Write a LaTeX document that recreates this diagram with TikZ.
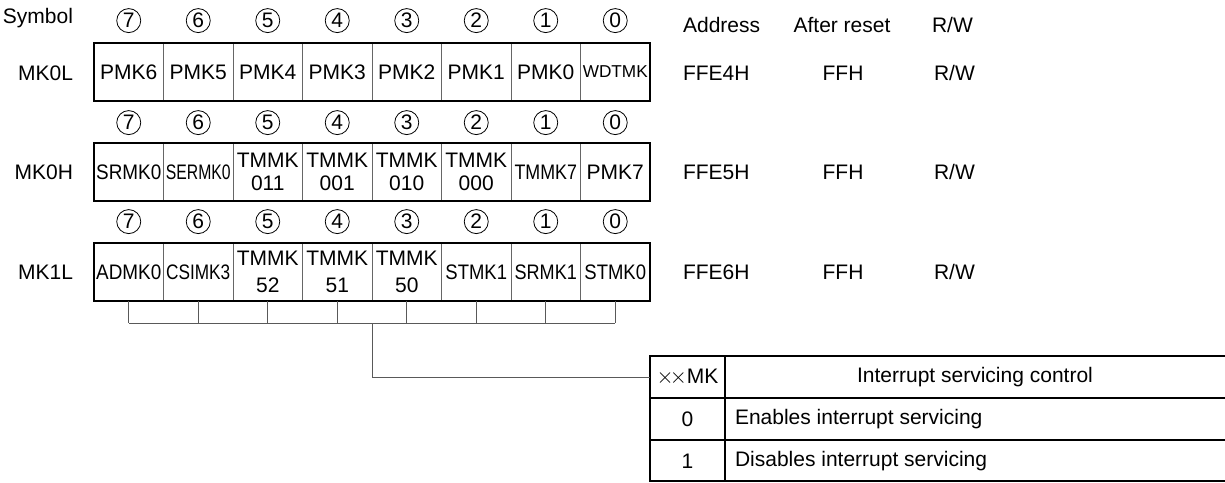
\documentclass[tikz,border=0pt]{standalone}
\usepackage{fontspec}
\setmainfont{Liberation Sans}
\usepackage{graphicx}
\usetikzlibrary{positioning}
\tikzset{
    % one bit of a register
    regcell/.style={
        draw=black!60,
        line width=0.5pt,
        minimum width=34.75pt,
        minimum height=29pt,
        inner sep=0pt,
        outer sep=0pt,
        align=center
    },
    regframe/.style={line width=1.1pt, black},
    bitno/.style={circle, draw, line width=0.4pt, minimum size=12pt, inner sep=0pt},
    combline/.style={line width=0.5pt, black!65},
    tabcell/.style={minimum height=21pt, inner sep=0pt, outer sep=0pt}
}
\newcommand{\sqz}[2]{\scalebox{#1}[1]{#2}}

\begin{document}
\begin{tikzpicture}[x=0.5pt, y=-0.5pt, font=\fontsize{10.5}{12}\selectfont]
        \useasboundingbox (0,0) rectangle (1225,482);

        % row labels and header
        \node[anchor=east] (symlbl) at (80,18) {Symbol};
        \node[anchor=east] (lolbl) at (80,73) {MK0L};
        \node[anchor=east] (hilbl) at (80,172) {MK0H};
        \node[anchor=east] (mllbl) at (80,272) {MK1L};

        \node[anchor=west] (addr) at (676,25) {Address};
        \node (rst) at (842,25) {After reset};
        \node[anchor=west] (rw) at (925,25) {R/W};

        % MK0L
        \node[regcell] (lo7) at (128.75,72) {PMK6};
        \node[regcell, right=0pt of lo7] (lo6) {PMK5};
        \node[regcell, right=0pt of lo6] (lo5) {PMK4};
        \node[regcell, right=0pt of lo5] (lo4) {PMK3};
        \node[regcell, right=0pt of lo4] (lo3) {PMK2};
        \node[regcell, right=0pt of lo3] (lo2) {PMK1};
        \node[regcell, right=0pt of lo2] (lo1) {PMK0};
        \node[regcell, right=0pt of lo1, font=\fontsize{8.6}{10}\selectfont] (lo0) {WDTMK};
        \draw[regframe] (lo7.north west) rectangle (lo0.south east);

        % MK0H
        \node[regcell] (hi7) at (128.75,172) {\sqz{0.9}{SRMK0}};
        \node[regcell, right=0pt of hi7] (hi6) {\sqz{0.75}{SERMK0}};
        \node[regcell, right=0pt of hi6] (hi5) {TMMK\\[-0.5pt]011};
        \node[regcell, right=0pt of hi5] (hi4) {TMMK\\[-0.5pt]001};
        \node[regcell, right=0pt of hi4] (hi3) {TMMK\\[-0.5pt]010};
        \node[regcell, right=0pt of hi3] (hi2) {TMMK\\[-0.5pt]000};
        \node[regcell, right=0pt of hi2] (hi1) {\sqz{0.85}{TMMK7}};
        \node[regcell, right=0pt of hi1] (hi0) {PMK7};
        \draw[regframe] (hi7.north west) rectangle (hi0.south east);

        % MK1L
        \node[regcell] (ml7) at (128.75,272) {\sqz{0.9}{ADMK0}};
        \node[regcell, right=0pt of ml7] (ml6) {\sqz{0.82}{CSIMK3}};
        \node[regcell, right=0pt of ml6] (ml5) {TMMK\\[1.5pt]52};
        \node[regcell, right=0pt of ml5] (ml4) {TMMK\\[1.5pt]51};
        \node[regcell, right=0pt of ml4] (ml3) {TMMK\\[1.5pt]50};
        \node[regcell, right=0pt of ml3] (ml2) {\sqz{0.88}{STMK1}};
        \node[regcell, right=0pt of ml2] (ml1) {\sqz{0.86}{SRMK1}};
        \node[regcell, right=0pt of ml1] (ml0) {\sqz{0.88}{STMK0}};
        \draw[regframe] (ml7.north west) rectangle (ml0.south east);

        % bit numbers
        \foreach \b in {7,...,0} {
            \node[bitno, above=5pt of lo\b] (nlo\b) {\b};
            \node[bitno, above=4pt of hi\b] (nhi\b) {\b};
            \node[bitno, above=4.5pt of ml\b] (nml\b) {\b};
        }

        % address, reset value, access
        \node[anchor=west] (lo-addr) at (676,73) {FFE4H};
        \node[anchor=west] (hi-addr) at (676,172) {FFE5H};
        \node[anchor=west] (ml-addr) at (676,272) {FFE6H};
        \node (lo-rst) at (843,73) {FFH};
        \node (hi-rst) at (843,172) {FFH};
        \node (ml-rst) at (843,272) {FFH};
        \node[anchor=west] (lo-rw) at (927,73) {R/W};
        \node[anchor=west] (hi-rw) at (927,172) {R/W};
        \node[anchor=west] (ml-rw) at (927,272) {R/W};

        % table
        \node[tabcell, minimum width=37.5pt] (th1) at (687.5,377) {$\times\!\times$MK};
        \node[tabcell] (th2) at (975,377) {Interrupt servicing control};
        \node[tabcell, minimum width=37.5pt] (td01) at (687.5,419) {0};
        \node[tabcell, anchor=west] (td02) at (735,419) {Enables interrupt servicing};
        \node[tabcell, minimum width=37.5pt] (td11) at (687.5,461) {1};
        \node[tabcell, anchor=west] (td12) at (735,461) {Disables interrupt servicing};
        \draw[line width=0.7pt] (650,440) -- (1226,440);
        \draw[line width=1.1pt] (650,398) -- (1226,398);
        \draw[line width=1.1pt] (725,356) -- (725,481);
        \draw[line width=1.1pt] (650,356) rectangle (1227,481);

        % comb under MK1L
        \foreach \b in {7,...,0}
            \draw[combline] (ml\b.south) -- ++(0,22);
        \draw[combline] ([yshift=-11pt]ml7.south) -- ([yshift=-11pt]ml0.south);
        \draw[combline] ([yshift=-11pt]ml4.south east) |- (th1.west);
\end{tikzpicture}
\end{document}
